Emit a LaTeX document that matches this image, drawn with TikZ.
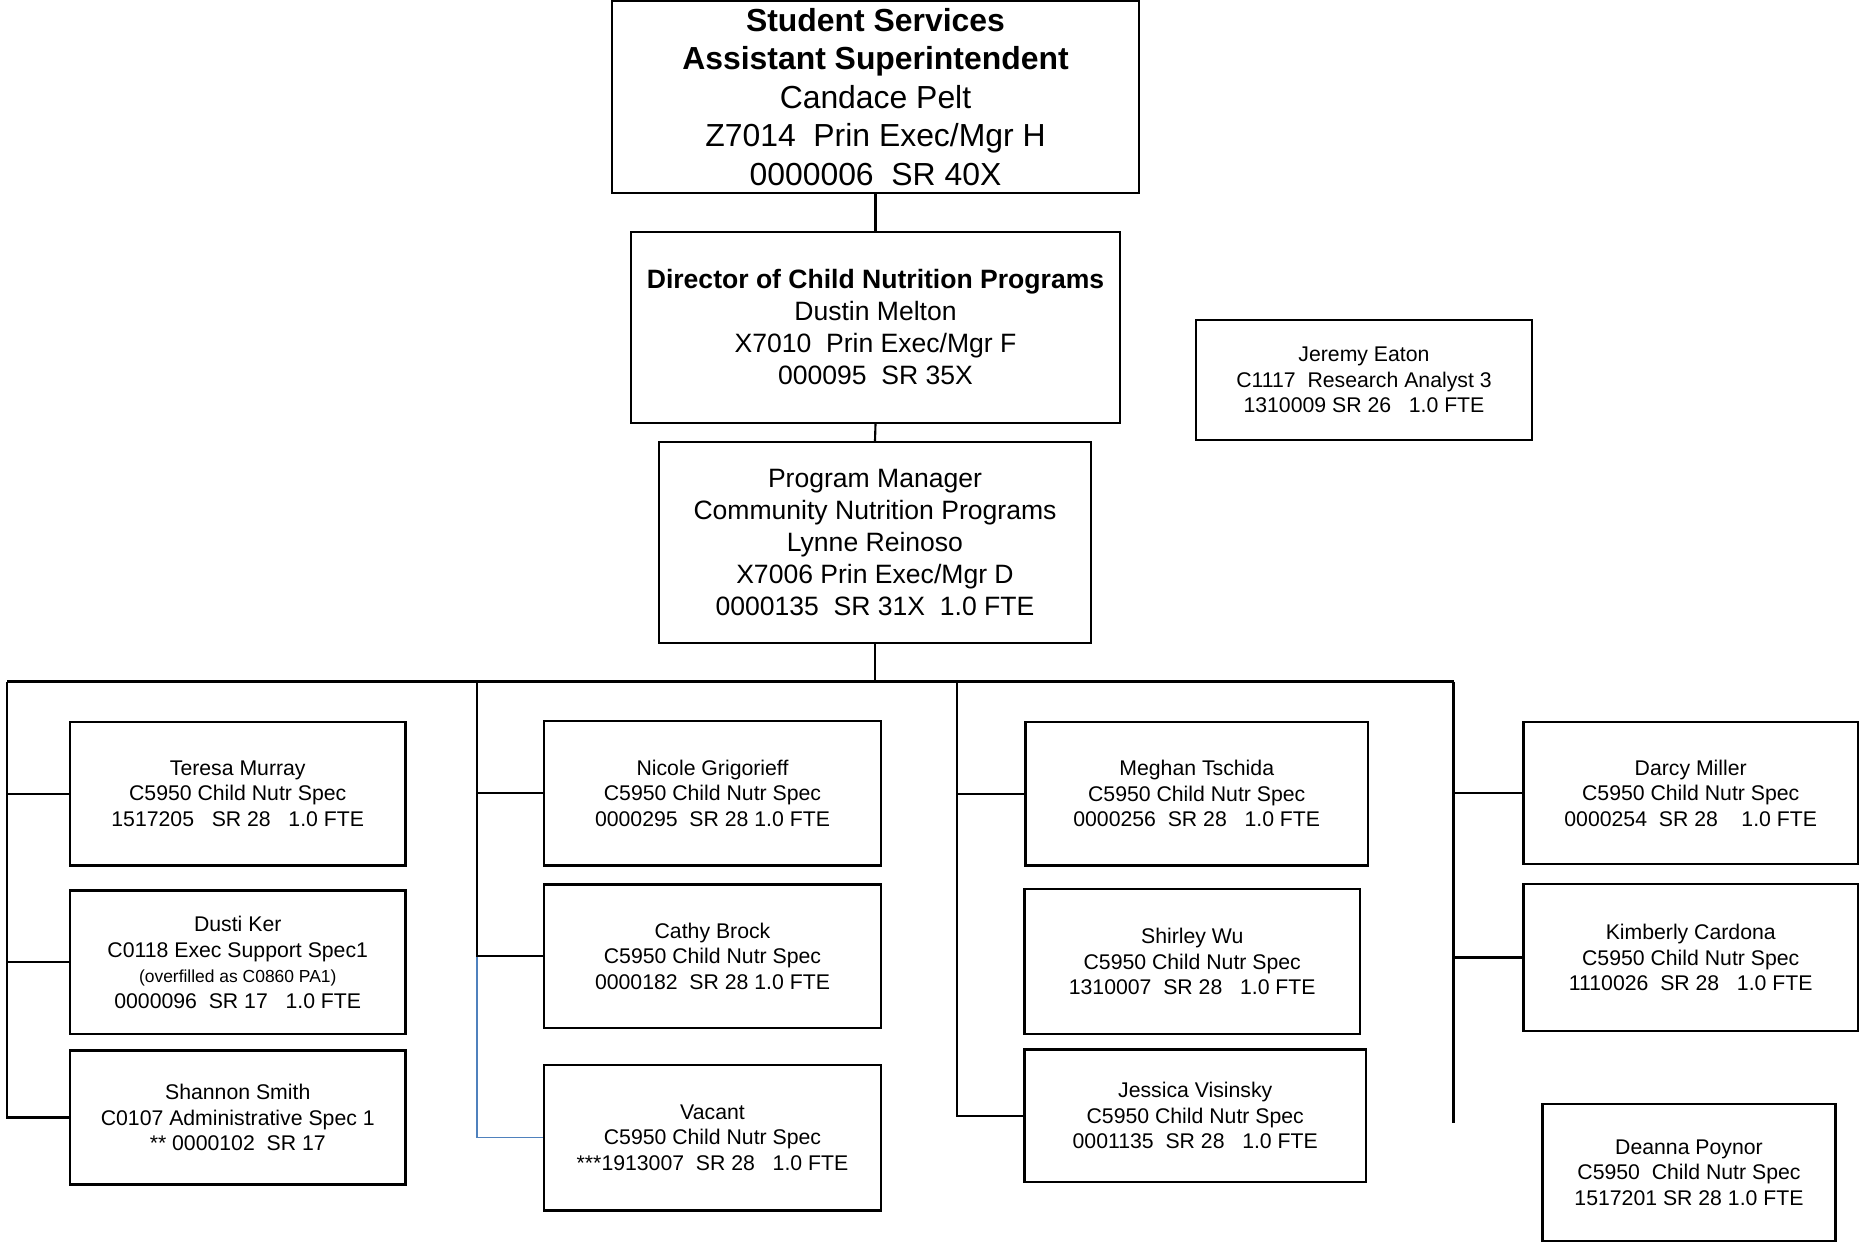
\documentclass[tikz,border=0pt]{standalone}
\usepackage{fontspec}
\setmainfont{Liberation Sans}
\newcommand{\fsBig}{\fontsize{9.07}{10.95}\selectfont}
\newcommand{\fsMid}{\fontsize{7.55}{9.1}\selectfont}
\newcommand{\fsSmall}{\fontsize{6.04}{7.26}\selectfont}
\newcommand{\fsTiny}{\fontsize{4.96}{6}\selectfont}
\definecolor{linkblue}{RGB}{79,129,189}
\tikzset{
  orgnode/.style={draw, line width=0.6pt, inner sep=0pt, align=center, font=\fsSmall},
  bigtext/.style={font=\fsBig},
  midtext/.style={font=\fsMid},
  link/.style={draw, line width=0.6pt},
  bluelink/.style={draw=linkblue, line width=0.35pt}
}
% \orgbox[style]{name}{x1}{y1}{x2}{y2}{text}
\newcommand{\orgbox}[7][]{%
  \node[orgnode,#1,minimum width={(#5-#3)*0.01cm},minimum height={(#6-#4)*0.01cm}]
    (#2) at ({(#3+#5)/2},{(#4+#6)/2}) {#7};}
\begin{document}
\begin{tikzpicture}[x=0.01cm,y=-0.01cm]
\useasboundingbox (0,0) rectangle (1859,1242);

% management chain
\orgbox[bigtext]{top}{612}{1}{1139}{193}{\textbf{Student Services}\\\textbf{Assistant Superintendent}\\Candace Pelt\\Z7014\ \ Prin Exec/Mgr H\\0000006\ \ SR 40X}
\orgbox[midtext]{dir}{631}{232}{1120}{423}{\textbf{Director of Child Nutrition Programs}\\Dustin Melton\\X7010\ \ Prin Exec/Mgr F\\000095\ \ SR 35X}
\orgbox{jeremy}{1196}{320}{1532}{440}{Jeremy Eaton\\C1117\ \ Research Analyst 3\\1310009 SR 26\ \ \ 1.0 FTE}
\orgbox[midtext]{pm}{659}{442}{1091}{643}{Program Manager\\Community Nutrition Programs\\Lynne Reinoso\\X7006 Prin Exec/Mgr D\\0000135\ \ SR 31X\ \ 1.0 FTE}

% column 1
\orgbox{teresa}{70}{722}{405.5}{865.5}{Teresa Murray\\C5950 Child Nutr Spec\\1517205\ \ \ SR 28\ \ \ 1.0 FTE}
\orgbox{dusti}{70}{890.5}{405.5}{1034}{Dusti Ker\\C0118 Exec Support Spec1\\{\fsTiny (overfilled as C0860 PA1)}\\0000096\ \ SR 17\ \ \ 1.0 FTE}
\orgbox{shannon}{70}{1050.5}{405.5}{1184.5}{Shannon Smith\\C0107 Administrative Spec 1\\** 0000102\ \ SR 17}

% column 2
\orgbox{nicole}{544}{721}{881}{865.5}{Nicole Grigorieff\\C5950 Child Nutr Spec\\0000295\ \ SR 28 1.0 FTE}
\orgbox{cathy}{544}{884.5}{881}{1028}{Cathy Brock\\C5950 Child Nutr Spec\\0000182\ \ SR 28 1.0 FTE}
\orgbox{vacant}{544}{1065}{881}{1210.5}{Vacant\\C5950 Child Nutr Spec\\***1913007\ \ SR 28\ \ \ 1.0 FTE}

% column 3
\orgbox{meghan}{1025.5}{722}{1368}{865.5}{Meghan Tschida\\C5950 Child Nutr Spec\\0000256\ \ SR 28\ \ \ 1.0 FTE}
\orgbox{shirley}{1024.5}{889}{1360}{1034}{Shirley Wu\\C5950 Child Nutr Spec\\1310007\ \ SR 28\ \ \ 1.0 FTE}
\orgbox{jessica}{1024.5}{1049.5}{1366}{1182}{Jessica Visinsky\\C5950 Child Nutr Spec\\0001135\ \ SR 28\ \ \ 1.0 FTE}

% column 4
\orgbox{darcy}{1523.5}{722}{1858}{864}{Darcy Miller\\C5950 Child Nutr Spec\\0000254\ \ SR 28\ \ \ \ 1.0 FTE}
\orgbox{kimberly}{1523.5}{884}{1858}{1031}{Kimberly Cardona\\C5950 Child Nutr Spec\\1110026\ \ SR 28\ \ \ 1.0 FTE}
\orgbox{deanna}{1542.5}{1104}{1835.5}{1241}{Deanna Poynor\\C5950\ \ Child Nutr Spec\\1517201 SR 28 1.0 FTE}

% bus and column trunks
\coordinate (busL) at (7,681.5);
\coordinate (busR) at (1453.5,681.5);
\coordinate (col2) at (477,681.5);
\coordinate (col3) at (957,681.5);
\coordinate (col2blue) at (477,903);
\coordinate (col4end) at (1453.5,1123);

\draw[link] (top.south) -- (dir.north);
\draw[link] (dir.south) -- (pm.north);
\draw[link] (pm.south) -- (pm.south |- busL);
\draw[link] (busL) -- (busR);

% column 1 links
\draw[link] (busL) -- (busL |- shannon.west) -- (shannon.west);
\draw[link] (busL |- teresa.west) -- (teresa.west);
\draw[link] (busL |- dusti.west) -- (dusti.west);

% column 2 links
\draw[bluelink] (col2blue) -- (col2blue |- vacant.west) -- (vacant.west);
\draw[link] (col2) -- (col2 |- cathy.west) -- (cathy.west);
\draw[link] (col2 |- nicole.west) -- (nicole.west);

% column 3 links
\draw[link] (col3) -- (col3 |- jessica.west) -- (jessica.west);
\draw[link] (col3 |- meghan.west) -- (meghan.west);

% column 4 links
\draw[link] (busR) -- (col4end);
\draw[link] (busR |- darcy.west) -- (darcy.west);
\draw[link] (busR |- kimberly.west) -- (kimberly.west);
\end{tikzpicture}
\end{document}
